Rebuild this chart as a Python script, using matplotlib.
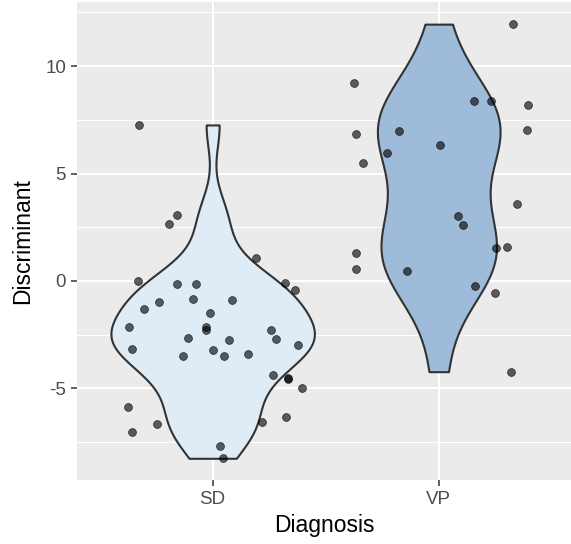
import numpy as np
import matplotlib
matplotlib.use("Agg")
import matplotlib.pyplot as plt
from matplotlib.mlab import GaussianKDE

# ---- data ----
categories = ["SD", "VP"]

sd_values = [7.26, 3.09, 2.67, 1.09, -0.02, -0.14, -0.14, -0.09, -0.42, -0.98,
             -0.84, -0.88, -1.30, -1.49, -2.12, -2.12, -2.28, -2.26, -2.64, -2.73,
             -2.68, -3.15, -3.21, -3.50, -3.47, -3.41, -2.99, -4.39, -4.53, -4.55,
             -4.99, -5.86, -6.65, -6.54, -6.33, -7.01, -7.67, -8.25]
sd_jitter = [-0.324, -0.158, -0.193, 0.190, -0.329, -0.159, -0.075, 0.322, 0.366, -0.237,
             -0.088, 0.087, -0.305, -0.010, -0.369, -0.031, -0.031, 0.257, -0.111, 0.072,
             0.279, -0.355, 0.003, -0.133, 0.052, 0.155, 0.379, 0.267, 0.332, 0.334,
             0.395, -0.373, -0.248, 0.217, 0.323, -0.355, 0.034, 0.047]

vp_values = [11.95, 9.22, 8.36, 8.36, 8.19, 6.85, 6.96, 7.02, 6.34, 5.97,
             5.50, 3.57, 3.04, 2.62, 1.55, 1.60, 1.29, 0.57, 0.45, -0.22,
             -0.57, -4.22]
vp_jitter = [0.327, -0.373, 0.158, 0.232, 0.397, -0.367, -0.176, 0.392, 0.004, -0.229,
             -0.333, 0.344, 0.087, 0.109, 0.254, 0.304, -0.367, -0.367, -0.140, 0.162,
             0.249, 0.319]

y_ticks = [-5, 0, 5, 10]
fill_colors = ["#DFEBF5", "#9EBCDA"]


def bw_nrd0(x):
    x = np.asarray(x, float)
    sd = np.std(x, ddof=1)
    iqr = np.subtract(*np.percentile(x, [75, 25]))
    lo = min(sd, iqr / 1.34)
    return 0.9 * lo * len(x) ** (-0.2)


def bw_factor(kde):
    d = np.asarray(kde.dataset).ravel()
    return bw_nrd0(d) / np.std(d, ddof=1)


datasets = [np.array(sd_values), np.array(vp_values)]
positions = [1, 2]

# scale="area": widths proportional to each group's max density
maxd = []
for d in datasets:
    kde = GaussianKDE(d, bw_method=bw_factor)
    grid = np.linspace(d.min(), d.max(), 512)
    maxd.append(kde.evaluate(grid).max())
maxd = np.array(maxd)
widths = 0.9 * maxd / maxd.max()

plt.rcParams["font.family"] = ["Liberation Sans", "DejaVu Sans"]

fig = plt.figure(figsize=(5.71, 5.44), dpi=100)
ax = fig.add_axes([77 / 571, 1 - 480 / 544, 1 - 77 / 571, (480 - 2) / 544])
ax.set_facecolor("#EBEBEB")
for s in ax.spines.values():
    s.set_visible(False)

ax.set_xlim(0.4, 2.585)
ax.set_ylim(-9.26, 12.98)

# grid
for yv in [-7.5, -2.5, 2.5, 7.5, 12.5]:
    ax.axhline(yv, color="white", lw=0.75, zorder=0.5)
for yv in y_ticks:
    ax.axhline(yv, color="white", lw=1.45, zorder=0.6)
for xv in positions:
    ax.axvline(xv, color="white", lw=1.45, zorder=0.6)

parts = ax.violinplot(datasets, positions=positions, widths=widths,
                      showmeans=False, showextrema=False, showmedians=False,
                      points=512, bw_method=bw_factor)
for body, fc in zip(parts["bodies"], fill_colors):
    body.set_facecolor(fc)
    body.set_edgecolor("#333333")
    body.set_linewidth(1.5)
    body.set_alpha(1)
    body.set_zorder(2)

for pos, vals, jit in [(1, sd_values, sd_jitter), (2, vp_values, vp_jitter)]:
    xs = pos + np.array(jit)
    ax.scatter(xs, vals, s=32, facecolor=(0, 0, 0, 0.62),
               edgecolor=(0, 0, 0, 0.75), linewidths=0.5, zorder=3)

ax.set_xticks(positions)
ax.set_xticklabels(categories)
ax.set_yticks(y_ticks)
ax.set_yticklabels([str(t) for t in y_ticks])
ax.tick_params(axis="both", length=4.3, width=1.1, color="#333333",
               labelcolor="#4D4D4D", labelsize=13.5, pad=3.6)
ax.set_xlabel("Diagnosis", fontsize=16.5, color="black", labelpad=4)
ax.set_ylabel("Discriminant", fontsize=16.5, color="black", labelpad=8)

fig.savefig("out.png", dpi=100)
